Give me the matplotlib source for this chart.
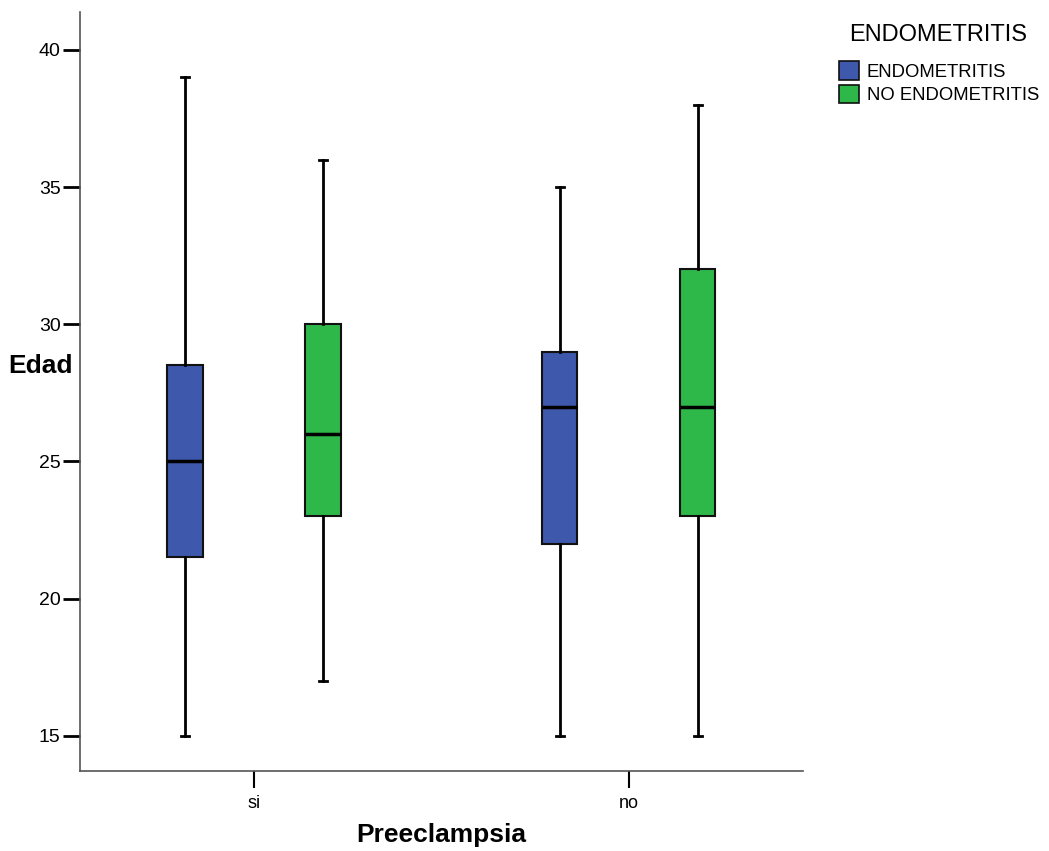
import matplotlib
matplotlib.use("Agg")
import matplotlib.pyplot as plt
import matplotlib.patches as mpatches

plt.rcParams["font.family"] = ["Liberation Sans", "DejaVu Sans"]

# data (five-number summaries)
groups = ["si", "no"]
series = ["ENDOMETRITIS", "NO ENDOMETRITIS"]
colors = ["#3E58AC", "#2FB84A"]
whislo = [[15, 15], [17, 15]]
q1 = [[21.5, 22], [23, 23]]
med = [[25, 27], [26, 27]]
q3 = [[28.5, 29], [30, 32]]
whishi = [[39, 35], [36, 38]]

fig = plt.figure(figsize=(10.49, 8.51), dpi=100)
ax = fig.add_axes([0.0763, 0.094, 0.689, 0.892])

offset = 0.184
for s, name in enumerate(series):
    stats = []
    for g in range(len(groups)):
        stats.append(dict(whislo=whislo[s][g], q1=q1[s][g], med=med[s][g],
                          q3=q3[s][g], whishi=whishi[s][g], fliers=[]))
    pos = [g + (s - 0.5) * 2 * offset for g in range(len(groups))]
    ax.bxp(stats, positions=pos, widths=0.094, patch_artist=True, showfliers=False,
           boxprops=dict(facecolor=colors[s], edgecolor="#111111", linewidth=1.5),
           medianprops=dict(color="black", linewidth=2.5),
           whiskerprops=dict(color="black", linewidth=2),
           capprops=dict(color="black", linewidth=2), capwidths=0.02)

ax.set_xlim(-0.464, 1.464)
ax.set_ylim(13.72, 41.38)
ax.set_xticks(range(len(groups)))
ax.set_xticklabels(groups)
ax.set_yticks([15, 20, 25, 30, 35, 40])
ax.tick_params(axis="y", length=12, width=2, color="black", labelsize=14, pad=2)
ax.tick_params(axis="x", length=12, width=1.5, color="black", labelsize=13, pad=5)
for side in ["top", "right"]:
    ax.spines[side].set_visible(False)
for side in ["left", "bottom"]:
    ax.spines[side].set_color("#555555")
    ax.spines[side].set_linewidth(1.2)

ax.set_xlabel("Preeclampsia", fontsize=19, fontweight="bold", labelpad=8)
ax.set_ylabel("Edad", fontsize=19, fontweight="bold", rotation=0, va="center", ha="center")
ax.yaxis.set_label_coords(-0.055, 0.534)

# legend: title drawn separately so the gap to the entries matches
fig.text(0.894, 0.959, "ENDOMETRITIS", fontsize=17, ha="center", va="center")
handles = [mpatches.Patch(facecolor=c, edgecolor="#111111", linewidth=1.2, label=n)
           for c, n in zip(colors, series)]
fig.legend(handles=handles, loc="upper left", bbox_to_anchor=(0.8, 0.928),
           frameon=False, fontsize=13.3, handlelength=1.05, handleheight=1.15,
           handletextpad=0.45, labelspacing=0.22, borderaxespad=0, borderpad=0)

fig.savefig("out.png", dpi=100)
